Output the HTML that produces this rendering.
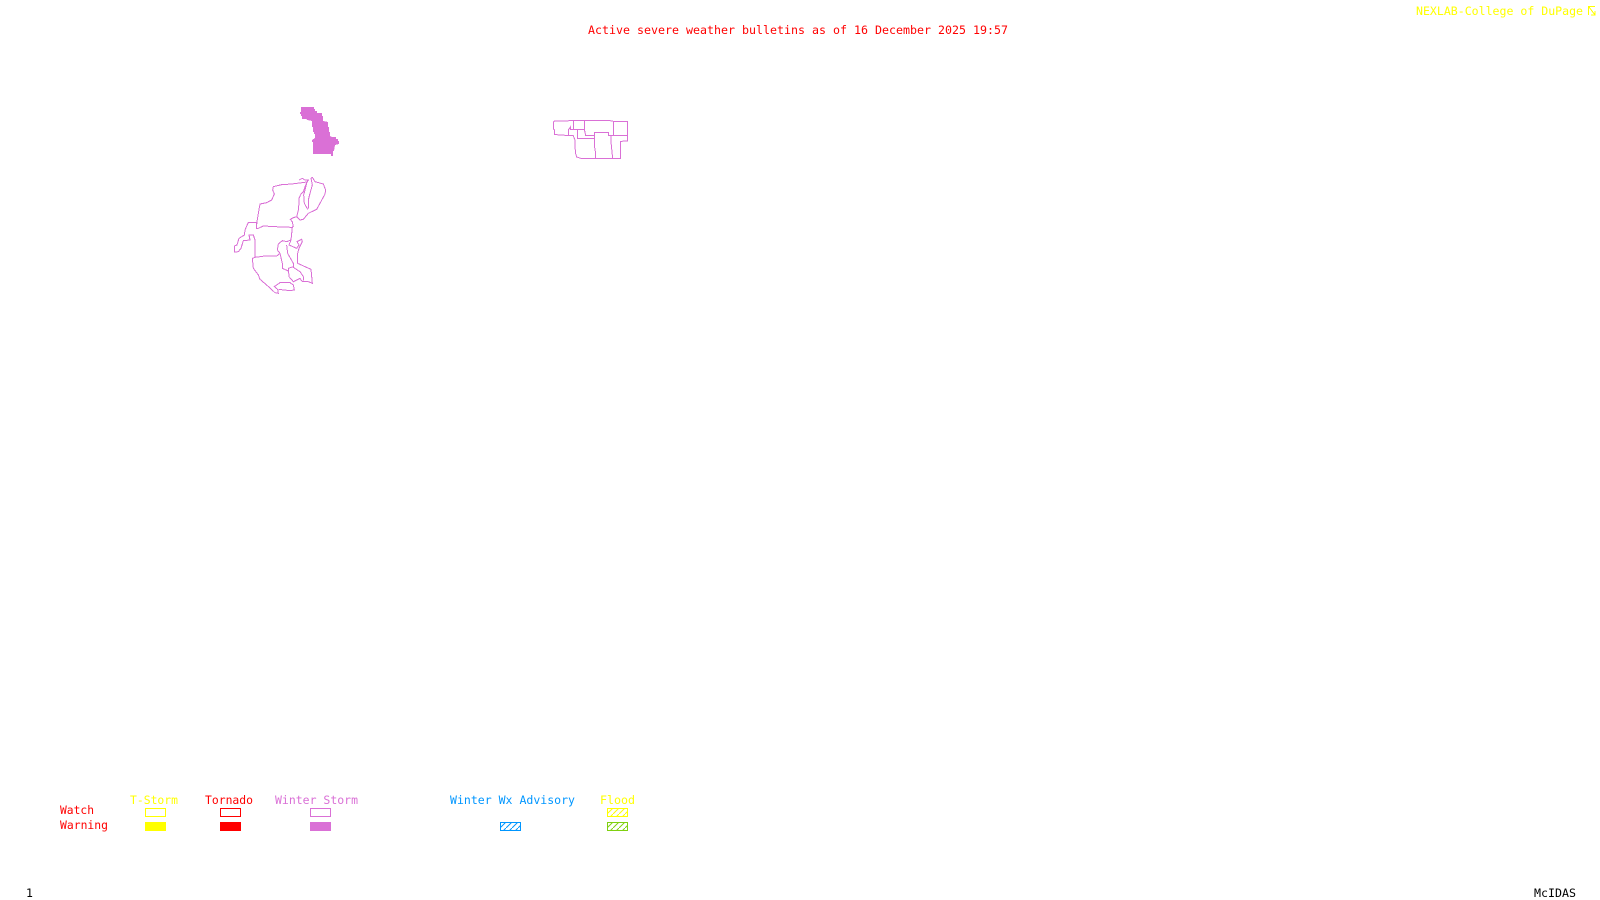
<!DOCTYPE html>
<html>
<head>
<meta charset="utf-8">
<style>
html,body{margin:0;padding:0;background:#fff;width:1600px;height:900px;overflow:hidden}
svg{display:block}
text{font-family:"DejaVu Sans Mono","Liberation Mono",monospace;font-size:11.5px}
</style>
</head>
<body>
<svg width="1600" height="900" viewBox="0 0 1600 900" xmlns="http://www.w3.org/2000/svg">
<defs>
<pattern id="hb" width="6" height="6" patternUnits="userSpaceOnUse" patternTransform="translate(500,822)"><path d="M-1 7L7 -1" stroke="#0096ff" stroke-width="1"/></pattern>
<pattern id="hy" width="6" height="6" patternUnits="userSpaceOnUse" patternTransform="translate(607,808)"><path d="M-1 7L7 -1" stroke="#ffff00" stroke-width="1"/></pattern>
<pattern id="hg" width="6" height="6" patternUnits="userSpaceOnUse" patternTransform="translate(607,822)"><path d="M-1 7L7 -1" stroke="#7fd010" stroke-width="1"/></pattern>
</defs>
<rect width="1600" height="900" fill="#fff"/>

<text x="588" y="34" fill="#ff0000" textLength="420" lengthAdjust="spacingAndGlyphs">Active severe weather bulletins as of 16 December 2025 19:57</text>
<text x="1416" y="15" fill="#ffff00" textLength="167" lengthAdjust="spacingAndGlyphs">NEXLAB-College of DuPage</text>
<path d="M1588.5 15V6.5H1595M1589 7L1595 15M1595 11V15H1591" fill="none" stroke="#ffff00" stroke-width="1" shape-rendering="crispEdges"/>

<g transform="translate(280,90) scale(.33333)" shape-rendering="crispEdges">
<polygon fill="#da70d6" points="63,51 102,51 102,57 105,57 105,63 111,63 111,69 126,69 126,78 129,78 129,93 144,96 144,111 147,111 147,126 150,126 150,138 156,141 168,141 168,147 174,147 174,153 177,153 177,162 165,165 162,183 159,183 159,198 153,198 153,192 99,192 99,156 96,156 96,150 105,144 105,132 102,132 102,126 99,126 99,111 96,111 96,93 81,90 78,87 66,87 66,78 63,78 63,72 60,72 60,66 63,66"/>
</g>

<g transform="translate(540,105) scale(.33333)" fill="none" stroke="#da70d6" stroke-width="3" shape-rendering="crispEdges">
<polyline points="42,48 100,47 210,47 220,49 263,49 263,108 242,109 242,160 122,160 110,156 106,142 105,106 100,92 58,90 44,88 43,75 40,72 40,54 42,48"/>
<polyline points="100,47 100,73 92,73 92,65 85,75 85,91 100,92"/>
<polyline points="100,73 112,73 113,100 163,101"/>
<polyline points="133,47 133,73 112,73"/>
<polyline points="133,73 137,91 163,92 163,82 205,82 206,91 263,91"/>
<polyline points="220,49 220,91"/>
<polyline points="163,92 163,120 166,140 166,160"/>
<polyline points="213,92 213,110 216,140 218,160"/>
</g>

<g transform="translate(225,170) scale(.33333)" fill="none" stroke="#da70d6" stroke-width="3" shape-rendering="crispEdges">
<polyline points="145,50 170,44 200,42 232,38 246,36 240,50 235,65 228,72 222,85 222,100 220,120 215,140 205,143 196,148 202,156 205,170 200,172 150,170 115,168 100,175 94,175 96,155 100,130 105,102 125,98 140,90 148,72 143,60 145,50"/>
<polyline points="222,30 232,25 240,30 250,30 246,36 240,60 236,75 238,100 248,118"/>
<polyline points="262,22 270,35 295,42 302,60 300,72 285,100 275,118 250,130 235,148 225,150 215,140"/>
<polyline points="262,22 258,25 262,45 255,70 250,90 250,115"/>
<polyline points="94,175 94,157 70,157 60,180 58,195 42,205 36,225 28,228 28,246 40,245 48,235 55,212 75,210 72,195 85,195 90,210 90,262 82,265 85,295 100,315 105,328 125,345 150,368 160,370 158,358 148,350 165,338 195,338 205,345 208,360 195,362 160,358"/>
<polyline points="90,262 120,258 155,258 165,250 157,240 160,222 172,212 185,215 198,210 202,172"/>
<polyline points="198,210 192,225 215,235 222,225 216,215 230,208 232,215 222,235 218,250 218,280 240,290 258,298 262,340 250,335 232,335 225,325 205,335 192,320 190,295 205,290"/>
<polyline points="165,250 172,280 172,295 190,303"/>
<polyline points="185,225 188,250 205,280 205,292 225,305 235,320 235,332"/>
</g>

<text x="130" y="804" fill="#ffff00" textLength="48" lengthAdjust="spacingAndGlyphs">T-Storm</text>
<text x="205" y="804" fill="#ff0000" textLength="48" lengthAdjust="spacingAndGlyphs">Tornado</text>
<text x="275" y="804" fill="#da70d6" textLength="83" lengthAdjust="spacingAndGlyphs">Winter Storm</text>
<text x="450" y="804" fill="#0096ff" textLength="125" lengthAdjust="spacingAndGlyphs">Winter Wx Advisory</text>
<text x="600" y="804" fill="#ffff00" textLength="35" lengthAdjust="spacingAndGlyphs">Flood</text>
<text x="60" y="814" fill="#ff0000" textLength="34" lengthAdjust="spacingAndGlyphs">Watch</text>
<text x="60" y="829" fill="#ff0000" textLength="48" lengthAdjust="spacingAndGlyphs">Warning</text>

<g shape-rendering="crispEdges">
<rect x="145.5" y="808.5" width="20" height="8" fill="none" stroke="#ffff00"/>
<rect x="145" y="822" width="21" height="9" fill="#ffff00"/>
<rect x="220.5" y="808.5" width="20" height="8" fill="none" stroke="#ff0000"/>
<rect x="220" y="822" width="21" height="9" fill="#ff0000"/>
<rect x="310.5" y="808.5" width="20" height="8" fill="none" stroke="#da70d6"/>
<rect x="310" y="822" width="21" height="9" fill="#da70d6"/>
<rect x="500.5" y="822.5" width="20" height="8" fill="url(#hb)" stroke="#0096ff"/>
<rect x="607.5" y="808.5" width="20" height="8" fill="url(#hy)" stroke="#ffff00"/>
<rect x="607.5" y="822.5" width="20" height="8" fill="url(#hg)" stroke="#7fd010"/>
</g>

<text x="26" y="897" fill="#000">1</text>
<text x="1534" y="897" fill="#000" textLength="42" lengthAdjust="spacingAndGlyphs">McIDAS</text>
</svg>
</body>
</html>
